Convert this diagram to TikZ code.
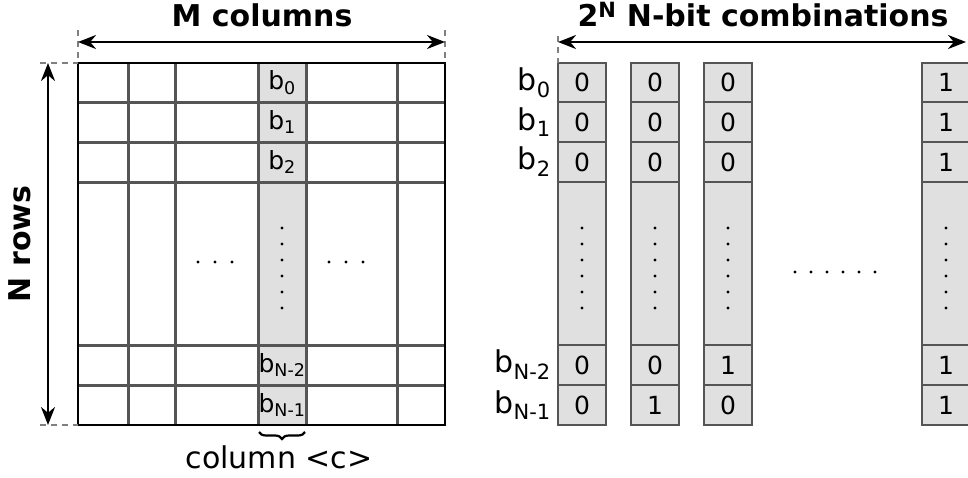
\documentclass[tikz,border=0pt]{standalone}
\usepackage{fontspec}
\setmainfont{DejaVu Sans}
\usetikzlibrary{arrows.meta,decorations.pathreplacing}

\definecolor{cellgray}{HTML}{E0E0E0}
\definecolor{linegray}{HTML}{555555}

\begin{document}
\begin{tikzpicture}
  [x=1pt, y=-1pt,
   inner line/.style={draw=linegray, line width=3pt},
   outer line/.style={draw=black, line width=2.6pt},
   bit box/.style={draw=linegray, fill=cellgray, line width=2.7pt},
   dim arrow/.style={{Stealth[length=18pt,width=14pt]}-{Stealth[length=18pt,width=14pt]}, line width=2.6pt},
   guide/.style={draw=gray, dash pattern=on 6pt off 5pt, line width=2pt},
   title/.style={font=\fontsize{30}{36}\selectfont\bfseries, inner sep=0pt},
   cell text/.style={font=\fontsize{25}{30}\selectfont, inner sep=0pt},
   row label/.style={font=\fontsize{30}{36}\selectfont, anchor=east, inner sep=0pt}]

  \useasboundingbox (0,0) rectangle (968,477);
  \clip (0,0) rectangle (968,477);

  % memory array, one column highlighted
  \fill[cellgray] (258,63) rectangle (306,425);
  \foreach \x in {128,175,258,306,397}
    \draw[inner line] (\x,63) -- (\x,425);
  \foreach \y in {102,142,182,345,385}
    \draw[inner line] (78,\y) -- (445,\y);
  \draw[outer line] (78,63) rectangle (445,425);

  \node[cell text] (c0) at (282,82.5) {b\textsubscript{0}};
  \node[cell text] (c1) at (282,122) {b\textsubscript{1}};
  \node[cell text] (c2) at (282,162) {b\textsubscript{2}};
  \node[cell text] (cn2) at (282,365) {b\textsubscript{N-2}};
  \node[cell text] (cn1) at (282,405) {b\textsubscript{N-1}};

  % dots
  \foreach \y in {228,244,...,308}
    \fill (282,\y) circle (1.7);
  \foreach \x in {198,215,232,329,346,363}
    \fill (\x,262) circle (1.7);

  % sizes
  \coordinate (mL) at (78,42);
  \coordinate (mR) at (445,42);
  \coordinate (nT) at (48,63);
  \coordinate (nB) at (48,425);
  \draw[guide] (78,30) -- (78,63);
  \draw[guide] (445,30) -- (445,63);
  \draw[guide] (40,63) -- (78,63);
  \draw[guide] (40,425) -- (78,425);
  \draw[dim arrow] (mL) -- (mR);
  \draw[dim arrow] (nT) -- (nB);
  \node[title] (mcols) at (262,15) {M columns};
  \node[title, rotate=90] (nrows) at (20,244) {N rows};

  \draw[decorate, decoration={brace, mirror, amplitude=7pt}, line width=2.2pt] (259,432) -- (305,432);
  \node[font=\fontsize{30}{36}\selectfont, inner sep=0pt] (colc) at (279,457) {column <c>};

  % all N-bit combinations
  \foreach \x/\ba/\bb/\bc/\bd/\be [count=\i] in
      {558/0/0/0/0/0, 631/0/0/0/0/1, 704/0/0/0/1/0, 922/1/1/1/1/1} {
    \draw[bit box] (\x,63) rectangle ++(48,362);
    \foreach \y in {102,142,182,345,385}
      \draw[bit box] (\x,\y) -- ++(48,0);
    \node[cell text] (v\i-0) at (\x+24,82.5) {\ba};
    \node[cell text] (v\i-1) at (\x+24,122) {\bb};
    \node[cell text] (v\i-2) at (\x+24,162) {\bc};
    \node[cell text] (v\i-3) at (\x+24,365) {\bd};
    \node[cell text] (v\i-4) at (\x+24,405) {\be};
    \foreach \y in {228,244,...,308}
      \fill (\x+24,\y) circle (1.7);
  }
  \foreach \x in {795,811,...,877}
    \fill (\x,272) circle (1.7);

  \node[row label] (r0) at (551,82.5) {b\textsubscript{0}};
  \node[row label] (r1) at (551,122) {b\textsubscript{1}};
  \node[row label] (r2) at (551,162) {b\textsubscript{2}};
  \node[row label] (rn2) at (551,365) {b\textsubscript{N-2}};
  \node[row label] (rn1) at (551,405) {b\textsubscript{N-1}};

  \coordinate (cL) at (558,42);
  \coordinate (cR) at (966,42);
  \draw[guide] (558,36) -- (558,63);
  \draw[dim arrow] (cL) -- (cR);
  \node[title] (combs) at (763,15) {2\textsuperscript{N} N-bit combinations};
\end{tikzpicture}
\end{document}
